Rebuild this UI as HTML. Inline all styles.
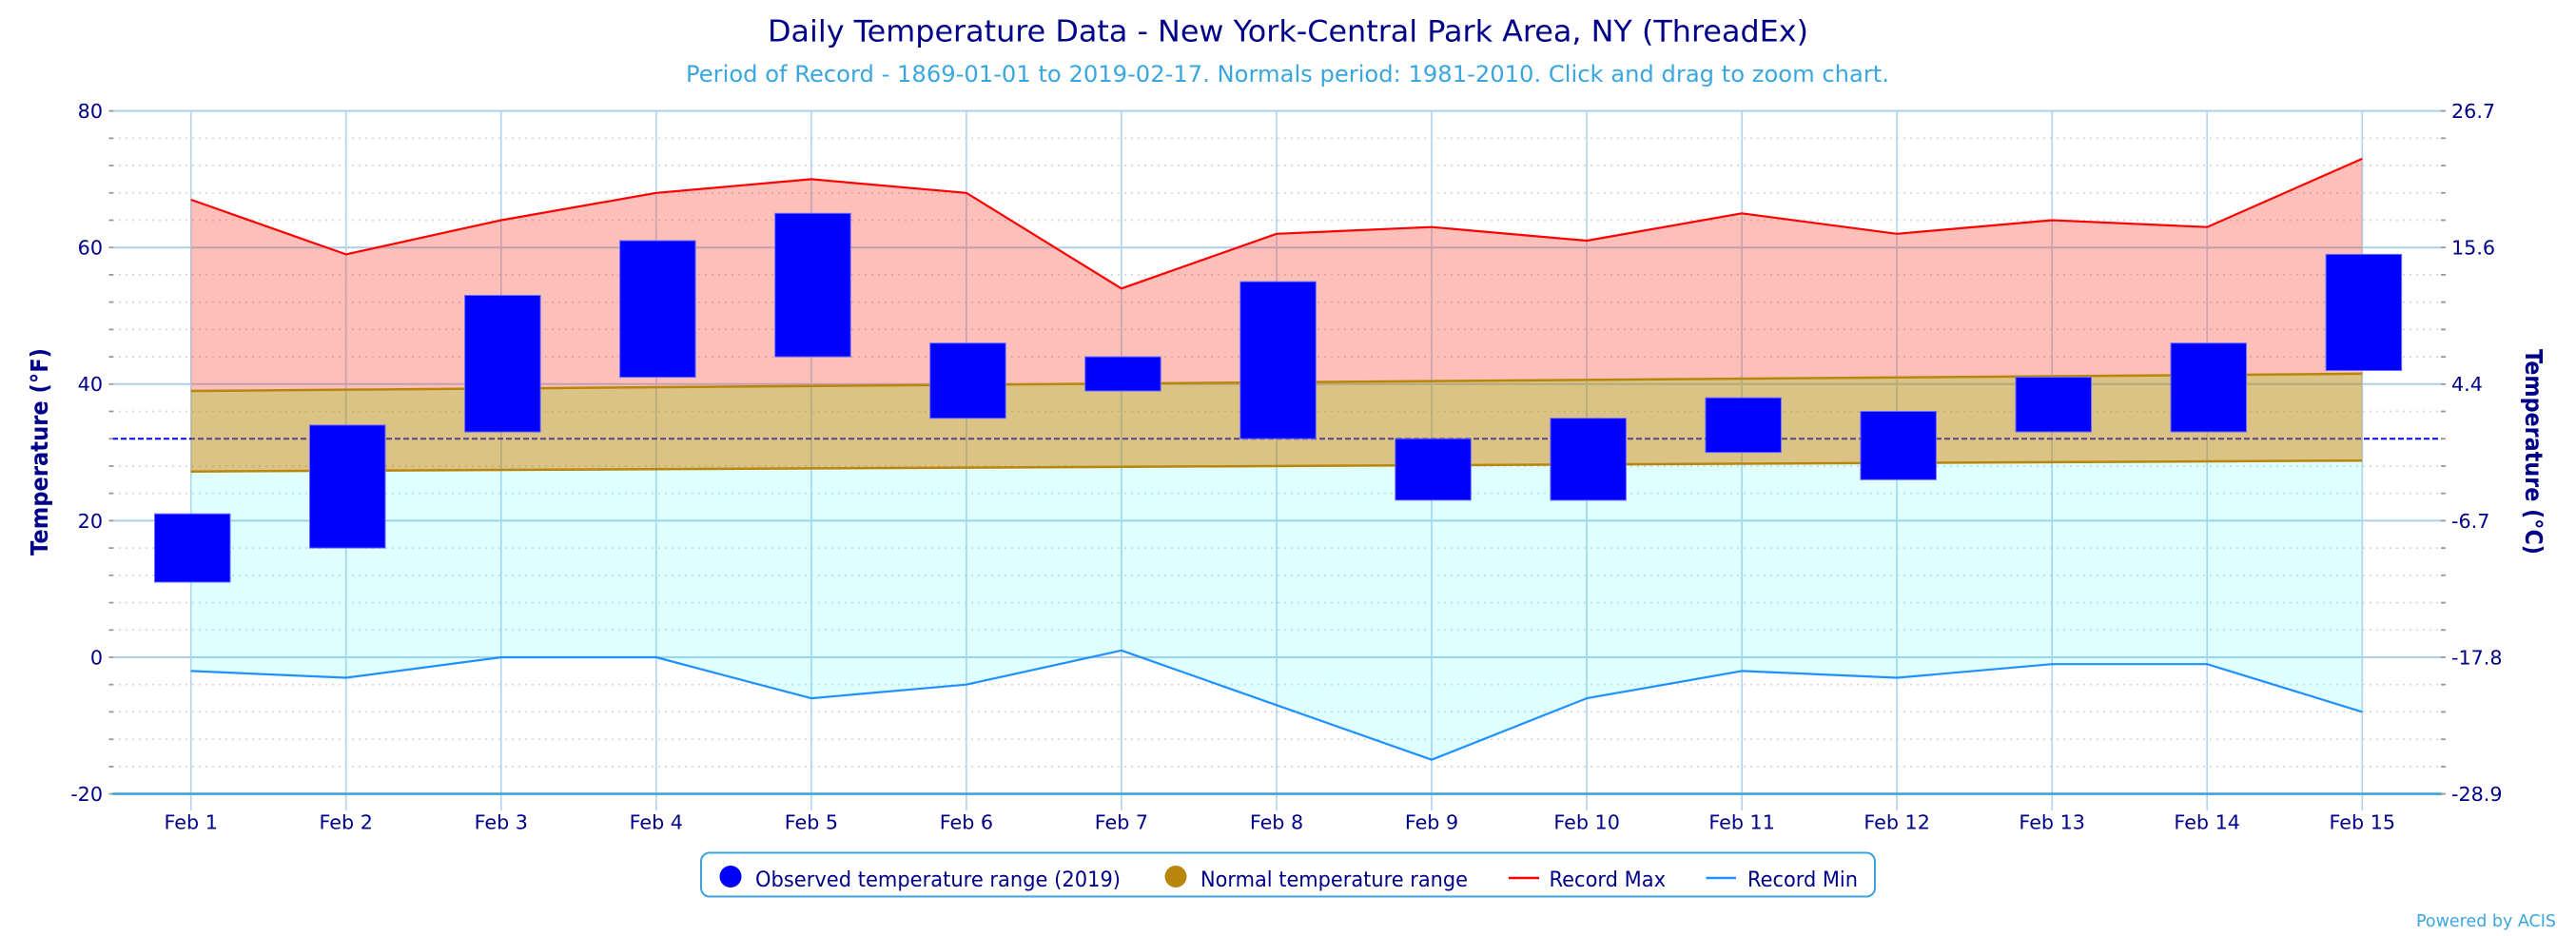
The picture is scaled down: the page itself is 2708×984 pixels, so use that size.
<!DOCTYPE html>
<html>
<head>
<meta charset="utf-8">
<style>
html,body{margin:0;padding:0;background:#ffffff;}
svg{display:block;}
text{font-family:"DejaVu Sans","Liberation Sans",sans-serif;}
</style>
</head>
<body>
<svg width="2708" height="984" viewBox="0 0 2708 984" xmlns="http://www.w3.org/2000/svg">
<rect x="0" y="0" width="2708" height="984" fill="#ffffff"/>

<!-- Title -->
<text x="807" y="43.3" font-size="31" fill="#000088" textLength="1094" lengthAdjust="spacingAndGlyphs">Daily Temperature Data - New York-Central Park Area, NY (ThreadEx)</text>
<text x="721" y="86" font-size="24" fill="#3aa6e0" textLength="1265" lengthAdjust="spacingAndGlyphs">Period of Record - 1869-01-01 to 2019-02-17. Normals period: 1981-2010. Click and drag to zoom chart.</text>

<!-- Minor dotted gridlines -->
<g stroke="#d6d6d6" stroke-width="1.7" stroke-dasharray="2 5" fill="none">
<line x1="118" x2="2567" y1="805.9" y2="805.9"/>
<line x1="118" x2="2567" y1="777.2" y2="777.2"/>
<line x1="118" x2="2567" y1="748.4" y2="748.4"/>
<line x1="118" x2="2567" y1="719.7" y2="719.7"/>
<line x1="118" x2="2567" y1="662.3" y2="662.3"/>
<line x1="118" x2="2567" y1="633.6" y2="633.6"/>
<line x1="118" x2="2567" y1="604.8" y2="604.8"/>
<line x1="118" x2="2567" y1="576.1" y2="576.1"/>
<line x1="118" x2="2567" y1="518.7" y2="518.7"/>
<line x1="118" x2="2567" y1="490.0" y2="490.0"/>
<line x1="118" x2="2567" y1="432.5" y2="432.5"/>
<line x1="118" x2="2567" y1="375.1" y2="375.1"/>
<line x1="118" x2="2567" y1="346.4" y2="346.4"/>
<line x1="118" x2="2567" y1="317.6" y2="317.6"/>
<line x1="118" x2="2567" y1="288.9" y2="288.9"/>
<line x1="118" x2="2567" y1="231.5" y2="231.5"/>
<line x1="118" x2="2567" y1="202.8" y2="202.8"/>
<line x1="118" x2="2567" y1="174.0" y2="174.0"/>
<line x1="118" x2="2567" y1="145.3" y2="145.3"/>
</g>

<!-- Major horizontal gridlines -->
<g stroke="#aecfe8" stroke-width="2" fill="none">
<line x1="118" x2="2567" y1="116.6" y2="116.6"/>
<line x1="118" x2="2567" y1="260.2" y2="260.2"/>
<line x1="118" x2="2567" y1="403.8" y2="403.8"/>
<line x1="118" x2="2567" y1="547.4" y2="547.4"/>
<line x1="118" x2="2567" y1="691" y2="691"/>
</g>

<!-- Vertical gridlines + x ticks -->
<g stroke="#b5d5ee" stroke-width="1.7" fill="none">
<line x1="200.7" x2="200.7" y1="116.6" y2="852"/>
<line x1="363.7" x2="363.7" y1="116.6" y2="852"/>
<line x1="526.8" x2="526.8" y1="116.6" y2="852"/>
<line x1="689.8" x2="689.8" y1="116.6" y2="852"/>
<line x1="852.9" x2="852.9" y1="116.6" y2="852"/>
<line x1="1015.9" x2="1015.9" y1="116.6" y2="852"/>
<line x1="1178.9" x2="1178.9" y1="116.6" y2="852"/>
<line x1="1342.0" x2="1342.0" y1="116.6" y2="852"/>
<line x1="1505.0" x2="1505.0" y1="116.6" y2="852"/>
<line x1="1668.1" x2="1668.1" y1="116.6" y2="852"/>
<line x1="1831.1" x2="1831.1" y1="116.6" y2="852"/>
<line x1="1994.1" x2="1994.1" y1="116.6" y2="852"/>
<line x1="2157.2" x2="2157.2" y1="116.6" y2="852"/>
<line x1="2320.2" x2="2320.2" y1="116.6" y2="852"/>
<line x1="2483.3" x2="2483.3" y1="116.6" y2="852"/>
</g>

<!-- Freezing line -->
<line x1="118" x2="2567" y1="461.2" y2="461.2" stroke="#0000ff" stroke-width="2" stroke-dasharray="6 3"/>

<!-- Areas -->
<polygon fill="rgb(245,60,45)" fill-opacity="0.33" points="200.7,209.9 363.7,267.4 526.8,231.5 689.8,202.8 852.9,188.4 1015.9,202.8 1178.9,303.3 1342.0,245.8 1505.0,238.7 1668.1,253.0 1831.1,224.3 1994.1,245.8 2157.2,231.5 2320.2,238.7 2483.3,166.9 2483.3,392.9 200.7,411.0"/>
<polygon fill="#B8860B" fill-opacity="0.5" points="200.7,411.0 2483.3,392.9 2483.3,484.2 200.7,495.7"/>
<polygon fill="#00ffff" fill-opacity="0.12" points="200.7,495.7 2483.3,484.2 2483.3,748.4 2320.2,698.2 2157.2,698.2 1994.1,712.5 1831.1,705.4 1668.1,734.1 1505.0,798.7 1342.0,741.3 1178.9,683.8 1015.9,719.7 852.9,734.1 689.8,691 526.8,691 363.7,712.5 200.7,705.4"/>

<!-- Normal lines -->
<line x1="200.7" y1="411.0" x2="2483.3" y2="392.9" stroke="#B8860B" stroke-width="2.5"/>
<line x1="200.7" y1="495.7" x2="2483.3" y2="484.2" stroke="#B8860B" stroke-width="2.5"/>

<!-- Record lines -->
<polyline fill="none" stroke="#ff0000" stroke-width="2.2" stroke-linejoin="round" points="200.7,209.9 363.7,267.4 526.8,231.5 689.8,202.8 852.9,188.4 1015.9,202.8 1178.9,303.3 1342.0,245.8 1505.0,238.7 1668.1,253.0 1831.1,224.3 1994.1,245.8 2157.2,231.5 2320.2,238.7 2483.3,166.9"/>
<polyline fill="none" stroke="#1e90ff" stroke-width="2.2" stroke-linejoin="round" points="200.7,705.4 363.7,712.5 526.8,691 689.8,691 852.9,734.1 1015.9,719.7 1178.9,683.8 1342.0,741.3 1505.0,798.7 1668.1,734.1 1831.1,705.4 1994.1,712.5 2157.2,698.2 2320.2,698.2 2483.3,748.4"/>

<!-- Observed bars -->
<g fill="#0000ff" stroke="#6a6aff" stroke-width="1">
<rect x="162.5" y="540.2" width="79.5" height="71.8"/>
<rect x="325.5" y="446.9" width="79.5" height="129.2"/>
<rect x="488.6" y="310.5" width="79.5" height="143.6"/>
<rect x="651.6" y="253.0" width="79.5" height="143.6"/>
<rect x="814.7" y="224.3" width="79.5" height="150.8"/>
<rect x="977.7" y="360.7" width="79.5" height="79.0"/>
<rect x="1140.7" y="375.1" width="79.5" height="35.9"/>
<rect x="1303.8" y="296.1" width="79.5" height="165.1"/>
<rect x="1466.8" y="461.2" width="79.5" height="64.6"/>
<rect x="1629.9" y="439.7" width="79.5" height="86.2"/>
<rect x="1792.9" y="418.2" width="79.5" height="57.4"/>
<rect x="1955.9" y="432.5" width="79.5" height="71.8"/>
<rect x="2119.0" y="396.6" width="79.5" height="57.4"/>
<rect x="2282.0" y="360.7" width="79.5" height="93.3"/>
<rect x="2445.1" y="267.4" width="79.5" height="122.1"/>
</g>

<!-- Bottom axis line -->
<line x1="118" x2="2567" y1="834.6" y2="834.6" stroke="#3ea3dc" stroke-width="2.6"/>

<!-- Y ticks left & right -->
<g stroke="#999999" stroke-width="1.8">
<line x1="114.5" x2="119" y1="116.6" y2="116.6"/><line x1="2566" x2="2571" y1="116.6" y2="116.6"/>
<line x1="114.5" x2="119" y1="145.3" y2="145.3"/><line x1="2566" x2="2571" y1="145.3" y2="145.3"/>
<line x1="114.5" x2="119" y1="174.0" y2="174.0"/><line x1="2566" x2="2571" y1="174.0" y2="174.0"/>
<line x1="114.5" x2="119" y1="202.8" y2="202.8"/><line x1="2566" x2="2571" y1="202.8" y2="202.8"/>
<line x1="114.5" x2="119" y1="231.5" y2="231.5"/><line x1="2566" x2="2571" y1="231.5" y2="231.5"/>
<line x1="114.5" x2="119" y1="260.2" y2="260.2"/><line x1="2566" x2="2571" y1="260.2" y2="260.2"/>
<line x1="114.5" x2="119" y1="288.9" y2="288.9"/><line x1="2566" x2="2571" y1="288.9" y2="288.9"/>
<line x1="114.5" x2="119" y1="317.6" y2="317.6"/><line x1="2566" x2="2571" y1="317.6" y2="317.6"/>
<line x1="114.5" x2="119" y1="346.4" y2="346.4"/><line x1="2566" x2="2571" y1="346.4" y2="346.4"/>
<line x1="114.5" x2="119" y1="375.1" y2="375.1"/><line x1="2566" x2="2571" y1="375.1" y2="375.1"/>
<line x1="114.5" x2="119" y1="403.8" y2="403.8"/><line x1="2566" x2="2571" y1="403.8" y2="403.8"/>
<line x1="114.5" x2="119" y1="432.5" y2="432.5"/><line x1="2566" x2="2571" y1="432.5" y2="432.5"/>
<line x1="114.5" x2="119" y1="461.2" y2="461.2"/><line x1="2566" x2="2571" y1="461.2" y2="461.2"/>
<line x1="114.5" x2="119" y1="490.0" y2="490.0"/><line x1="2566" x2="2571" y1="490.0" y2="490.0"/>
<line x1="114.5" x2="119" y1="518.7" y2="518.7"/><line x1="2566" x2="2571" y1="518.7" y2="518.7"/>
<line x1="114.5" x2="119" y1="547.4" y2="547.4"/><line x1="2566" x2="2571" y1="547.4" y2="547.4"/>
<line x1="114.5" x2="119" y1="576.1" y2="576.1"/><line x1="2566" x2="2571" y1="576.1" y2="576.1"/>
<line x1="114.5" x2="119" y1="604.8" y2="604.8"/><line x1="2566" x2="2571" y1="604.8" y2="604.8"/>
<line x1="114.5" x2="119" y1="633.6" y2="633.6"/><line x1="2566" x2="2571" y1="633.6" y2="633.6"/>
<line x1="114.5" x2="119" y1="662.3" y2="662.3"/><line x1="2566" x2="2571" y1="662.3" y2="662.3"/>
<line x1="114.5" x2="119" y1="691" y2="691"/><line x1="2566" x2="2571" y1="691" y2="691"/>
<line x1="114.5" x2="119" y1="719.7" y2="719.7"/><line x1="2566" x2="2571" y1="719.7" y2="719.7"/>
<line x1="114.5" x2="119" y1="748.4" y2="748.4"/><line x1="2566" x2="2571" y1="748.4" y2="748.4"/>
<line x1="114.5" x2="119" y1="777.2" y2="777.2"/><line x1="2566" x2="2571" y1="777.2" y2="777.2"/>
<line x1="114.5" x2="119" y1="805.9" y2="805.9"/><line x1="2566" x2="2571" y1="805.9" y2="805.9"/>
<line x1="114.5" x2="119" y1="834.6" y2="834.6"/><line x1="2566" x2="2571" y1="834.6" y2="834.6"/>
</g>

<!-- Left axis labels -->
<g font-size="20.7" fill="#000088" text-anchor="end">
<text x="108" y="124">80</text>
<text x="108" y="267.6">60</text>
<text x="108" y="411.2">40</text>
<text x="108" y="554.8">20</text>
<text x="108" y="698.4">0</text>
<text x="108" y="842">-20</text>
</g>

<!-- Right axis labels -->
<g font-size="20.7" fill="#000088" text-anchor="start">
<text x="2577" y="124">26.7</text>
<text x="2577" y="267.6">15.6</text>
<text x="2577" y="411.2">4.4</text>
<text x="2577" y="554.8">-6.7</text>
<text x="2577" y="698.4">-17.8</text>
<text x="2577" y="842">-28.9</text>
</g>

<!-- X axis labels -->
<g font-size="20.7" fill="#000088" text-anchor="middle">
<text x="200.7" y="871.7">Feb 1</text>
<text x="363.7" y="871.7">Feb 2</text>
<text x="526.8" y="871.7">Feb 3</text>
<text x="689.8" y="871.7">Feb 4</text>
<text x="852.9" y="871.7">Feb 5</text>
<text x="1015.9" y="871.7">Feb 6</text>
<text x="1178.9" y="871.7">Feb 7</text>
<text x="1342.0" y="871.7">Feb 8</text>
<text x="1505.0" y="871.7">Feb 9</text>
<text x="1668.1" y="871.7">Feb 10</text>
<text x="1831.1" y="871.7">Feb 11</text>
<text x="1994.1" y="871.7">Feb 12</text>
<text x="2157.2" y="871.7">Feb 13</text>
<text x="2320.2" y="871.7">Feb 14</text>
<text x="2483.3" y="871.7">Feb 15</text>
</g>

<!-- Axis titles -->
<g transform="translate(50,475) rotate(-90)">
<text x="-109" y="0" font-size="25" font-weight="bold" fill="#000088" textLength="218" lengthAdjust="spacingAndGlyphs">Temperature (°F)</text>
</g>
<g transform="translate(2655,475) rotate(90)">
<text x="-108" y="0" font-size="25" font-weight="bold" fill="#000088" textLength="216" lengthAdjust="spacingAndGlyphs">Temperature (°C)</text>
</g>

<!-- Legend -->
<rect x="737" y="896.5" width="1234" height="46" rx="9" ry="9" fill="#ffffff" stroke="#3ea3dc" stroke-width="2"/>
<circle cx="768" cy="921.5" r="11.5" fill="#0000ff"/>
<text x="794" y="932" font-size="22" fill="#000088" textLength="384" lengthAdjust="spacingAndGlyphs">Observed temperature range (2019)</text>
<circle cx="1236" cy="921.5" r="11.5" fill="#B8860B"/>
<text x="1262" y="932" font-size="22" fill="#000088" textLength="281" lengthAdjust="spacingAndGlyphs">Normal temperature range</text>
<line x1="1586" x2="1618" y1="923" y2="923" stroke="#ff0000" stroke-width="2.5"/>
<text x="1628.5" y="932" font-size="22" fill="#000088" textLength="122.5" lengthAdjust="spacingAndGlyphs">Record Max</text>
<line x1="1793.5" x2="1825" y1="923" y2="923" stroke="#1e90ff" stroke-width="2.5"/>
<text x="1837" y="932" font-size="22" fill="#000088" textLength="116" lengthAdjust="spacingAndGlyphs">Record Min</text>

<!-- Credits -->
<text x="2540" y="974" font-size="18" fill="#3aa6e0" textLength="147" lengthAdjust="spacingAndGlyphs">Powered by ACIS</text>
</svg>
</body>
</html>
